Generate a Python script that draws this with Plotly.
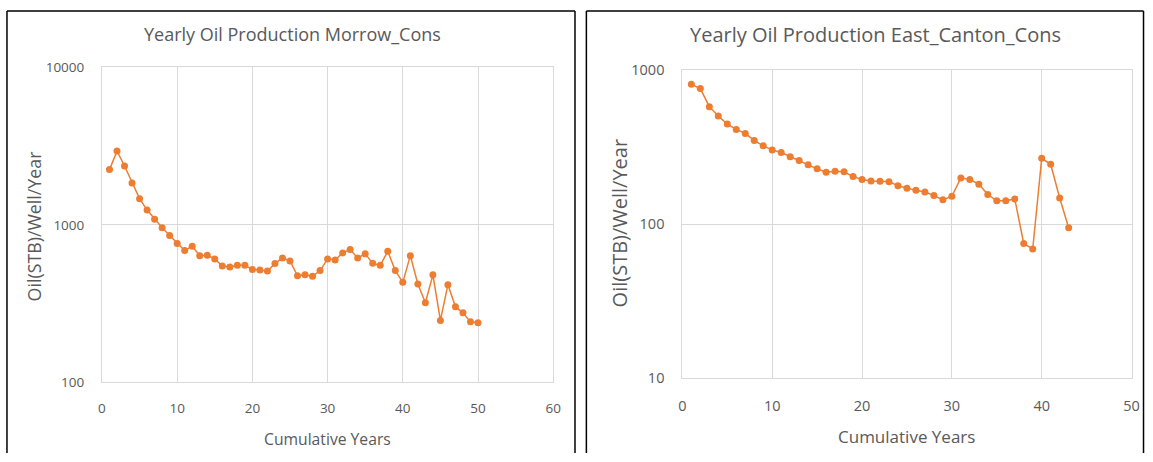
import plotly.graph_objects as go

# ---------------- data ----------------
morrow_years = list(range(1, 51))
morrow_oil = [2240, 2940, 2360, 1840, 1465, 1240, 1086, 957, 855, 760,
              686, 731, 637, 640, 607, 548, 540, 553, 553, 521,
              517, 509, 567, 616, 590, 475, 481, 471, 512, 607,
              598, 663, 696, 616, 654, 569, 553, 679, 512, 431,
              637, 421, 320, 481, 247, 417, 302, 276, 242, 239]

canton_years = list(range(1, 44))
canton_oil = [810, 760, 580, 504, 447, 413, 389, 350, 323, 304,
              292, 274, 259, 243, 229, 218, 221, 219, 204, 195,
              191, 190, 189, 178, 171, 166, 162, 154, 144, 152,
              200, 195, 182, 156, 142, 142, 146, 75, 69, 268,
              245, 148, 95]

left_title = "Yearly Oil Production Morrow_Cons"
right_title = "Yearly Oil Production East_Canton_Cons"
y_title = "Oil(STB)/Well/Year"
x_title = "Cumulative Years"

# ---------------- layout helpers ----------------
W, H = 1153, 462
def px(x):
    return x / W
def py(y):
    return 1 - y / H

ORANGE = "#ED7D31"
GRID = "#d9d9d9"
TXT = "#595959"
FONT = "Open Sans"

fig = go.Figure()
fig.add_trace(go.Scatter(x=morrow_years, y=morrow_oil, mode="lines+markers",
                         line=dict(color=ORANGE, width=1.5),
                         marker=dict(color=ORANGE, size=7),
                         xaxis="x", yaxis="y", showlegend=False))
fig.add_trace(go.Scatter(x=canton_years, y=canton_oil, mode="lines+markers",
                         line=dict(color=ORANGE, width=1.5),
                         marker=dict(color=ORANGE, size=7),
                         xaxis="x2", yaxis="y2", showlegend=False))

def xax(domain, rng, fs, standoff):
    return dict(domain=domain, range=rng, dtick=10, tick0=0, showgrid=True,
                gridcolor=GRID, gridwidth=1, showline=True, linecolor=GRID,
                linewidth=1, mirror=True, zeroline=False, ticks="",
                ticklabelstandoff=standoff,
                tickfont=dict(family=FONT, size=fs, color=TXT))

def yax(domain, rng, anchor, fs, standoff):
    return dict(domain=domain, type="log", range=rng, dtick=1,
                showgrid=True, gridcolor=GRID, gridwidth=1, showline=True,
                linecolor=GRID, linewidth=1, mirror=True, zeroline=False,
                ticks="", anchor=anchor, tickformat="d",
                ticklabelstandoff=standoff,
                tickfont=dict(family=FONT, size=fs, color=TXT))

fig.update_layout(
    width=W, height=H, margin=dict(l=0, r=0, t=0, b=0),
    paper_bgcolor="white", plot_bgcolor="white",
    xaxis=dict(xax([px(99), px(555)], [0, 60], 13.5, 13), anchor="y"),
    yaxis=yax([py(388.3), py(59.7)], [2, 4], "x", 13.5, 14),
    xaxis2=dict(xax([px(685.5), px(1139.4)], [0, 50], 14.5, 14), anchor="y2"),
    yaxis2=yax([py(384.1), py(62.8)], [1, 3], "x2", 14.5, 14),
)

ann = [
    dict(text=left_title, x=px(292), y=py(25), size=18),
    dict(text=right_title, x=px(880.5), y=py(26), size=20),
    dict(text=x_title, x=px(326.5), y=py(447), size=15.7),
    dict(text=x_title, x=px(912), y=py(445), size=17),
]
annotations = []
for a in ann:
    annotations.append(dict(text=a["text"], x=a["x"], y=a["y"], xref="paper",
                            yref="paper", showarrow=False, xanchor="center",
                            yanchor="middle",
                            font=dict(family=FONT, size=a["size"], color=TXT)))
annotations.append(dict(text=y_title, x=px(30.5), y=py(225.5), xref="paper", yref="paper",
                        showarrow=False, textangle=-90, xanchor="center", yanchor="middle",
                        font=dict(family=FONT, size=17.8, color=TXT)))
annotations.append(dict(text=y_title, x=px(621.5), y=py(222.5), xref="paper", yref="paper",
                        showarrow=False, textangle=-90, xanchor="center", yanchor="middle",
                        font=dict(family=FONT, size=20, color=TXT)))
fig.update_layout(annotations=annotations)

# panel borders (left, top, right edges; bottom is outside the picture)
def border(x0, x1, ytop):
    line = dict(color="black", width=1.5)
    return [
        dict(type="line", xref="paper", yref="paper", x0=px(x0), x1=px(x0), y0=0, y1=py(ytop), line=line),
        dict(type="line", xref="paper", yref="paper", x0=px(x0), x1=px(x1), y0=py(ytop), y1=py(ytop), line=line),
        dict(type="line", xref="paper", yref="paper", x0=px(x1), x1=px(x1), y0=0, y1=py(ytop), line=line),
    ]
fig.update_layout(shapes=border(3, 577, 1) + border(588.5, 1151.5, 1))

fig.write_html("out.html", config={"displayModeBar": False},
               post_script="document.body.style.margin='0';document.body.style.overflow='hidden';")
